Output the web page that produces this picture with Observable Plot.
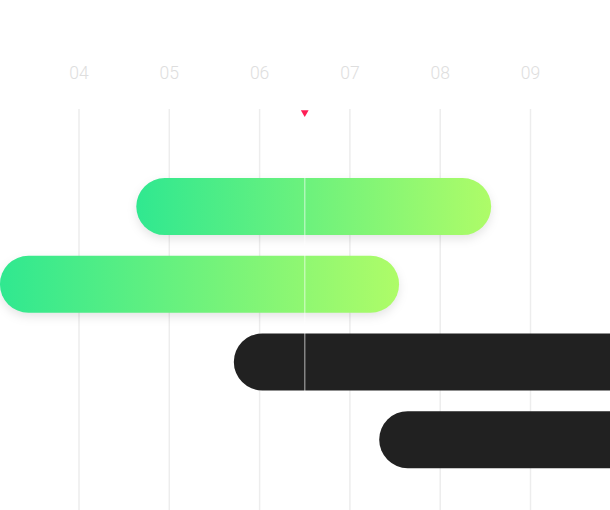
<!DOCTYPE html>
<html>
<head>
<meta charset="utf-8">
<script src="https://cdn.jsdelivr.net/npm/d3@7"></script>
<script src="https://cdn.jsdelivr.net/npm/@observablehq/plot@0.6"></script>
<style>
  html, body { margin: 0; padding: 0; background: #ffffff; }
  #chart { width: 610px; height: 510px; overflow: hidden; }
  svg { display: block; }
</style>
</head>
<body>
<div id="chart"></div>
<script>
// ---- data ----
const rows = ["Task 1", "Task 2", "Task 3", "Task 4"];
const starts = [4.64, 3.13, 5.72, 7.33];
const ends = [8.57, 7.55, 10.6, 10.6];
const states = ["active", "active", "upcoming", "upcoming"];
const hourTicks = [4, 5, 6, 7, 8, 9];
const tickLabels = ["04", "05", "06", "07", "08", "09"];
const now = [6.5];

const tasks = rows.map((r, i) => ({row: r, start: starts[i], end: ends[i], state: states[i]}));
const active = tasks.filter(d => d.state === "active");
const upcoming = tasks.filter(d => d.state === "upcoming");

const downTriangle = {
  draw(context, size) {
    const s = Math.sqrt(size / (Math.sqrt(3) / 4));
    const h = s * Math.sqrt(3) / 2;
    context.moveTo(-s / 2, -h / 3);
    context.lineTo(s / 2, -h / 3);
    context.lineTo(0, 2 * h / 3);
    context.closePath();
  }
};

const chart = Plot.plot({
  width: 610,
  height: 510,
  marginTop: 109,
  marginBottom: 0,
  marginLeft: 0,
  marginRight: 0,
  style: {background: "#ffffff", fontFamily: "Roboto, 'Open Sans', sans-serif"},
  x: {domain: [4, 9], range: [78.5, 530], axis: null},
  y: {domain: rows, range: [167.7, 478.5], paddingInner: 0.266, paddingOuter: 0.133, round: false, axis: null},
  marks: [
    Plot.ruleX(hourTicks, {x: d => d, stroke: "#ededed", strokeWidth: 1.5}),
    Plot.barX(active, {x1: "start", x2: "end", y: "row", rx: 28.5, fill: "url(#barGrad)"}),
    Plot.barX(upcoming, {x1: "start", x2: "end", y: "row", rx: 28.5, fill: "#212121"}),
    Plot.ruleX(now, {x: d => d, stroke: "#ffffff", strokeOpacity: 0.45, strokeWidth: 1.5}),
    Plot.dot(now, {x: d => d, frameAnchor: "top", dy: 3, symbol: downTriangle, r: 2.9, fill: "#ff1d55", stroke: "none"}),
    Plot.text(hourTicks, {x: d => d, text: (d, i) => tickLabels[i], frameAnchor: "top", dy: -43,
      fontSize: 17.5, fontWeight: 300, fill: "#dedede"})
  ]
});

// gradient + shadow definitions
const svg = d3.select(chart);
const defs = svg.insert("defs", ":first-child");
const grad = defs.append("linearGradient").attr("id", "barGrad")
  .attr("x1", "0").attr("y1", "0").attr("x2", "1").attr("y2", "0");
grad.append("stop").attr("offset", "0%").attr("stop-color", "#30e890");
grad.append("stop").attr("offset", "100%").attr("stop-color", "#aefc68");

const barGroups = chart.querySelectorAll('g[aria-label="bar"]');
if (barGroups.length) {
  barGroups[0].setAttribute("style", "filter: drop-shadow(0px 4px 5px rgba(0,0,0,0.10));");
}

document.getElementById("chart").appendChild(chart);
</script>
</body>
</html>
